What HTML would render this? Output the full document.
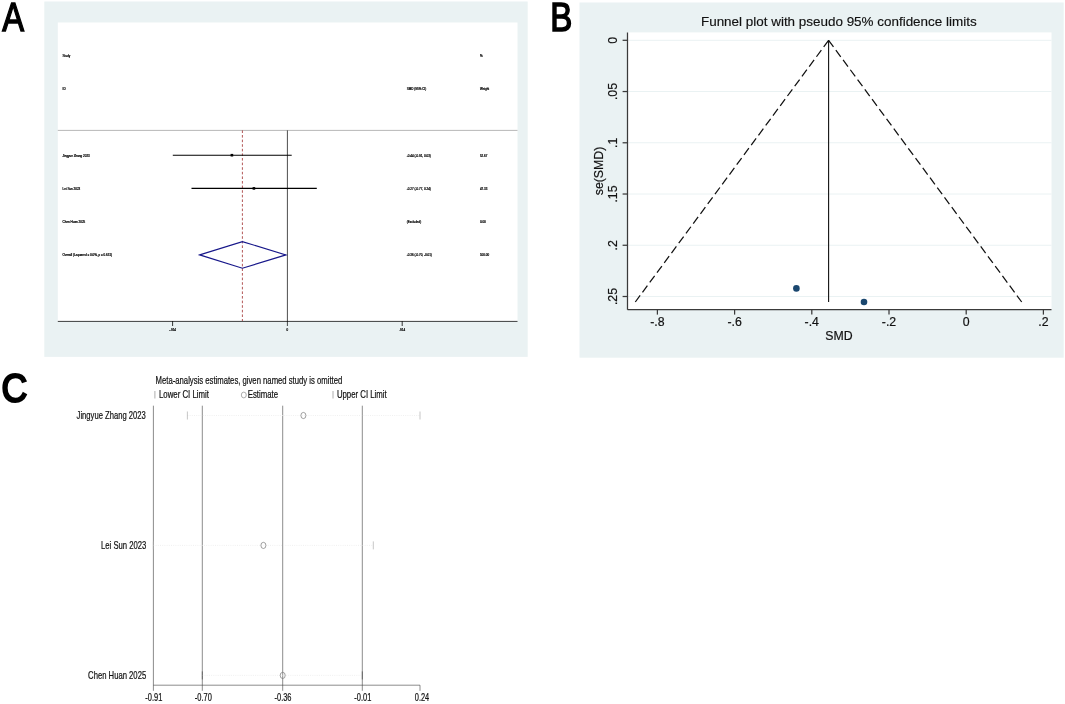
<!DOCTYPE html>
<html lang="en"><head><meta charset="utf-8"><title>Figure</title>
<style>
html,body{margin:0;padding:0;background:#fff;}
body{width:1065px;height:704px;overflow:hidden;}
svg{display:block;will-change:transform;}
text{font-family:"Liberation Sans",sans-serif;fill:#000;}
.big{font-weight:400;stroke:#000;}
.tiny{font-size:3px;font-weight:400;stroke:#000;stroke-width:0.2px;}
.bt{font-size:12.3px;fill:#111;stroke:#111;stroke-width:0.2px;}
.btitle{font-size:13.45px;fill:#111;stroke:#111;stroke-width:0.15px;}
.ct{font-size:10.6px;fill:#111;stroke:#111;stroke-width:0.22px;}
</style></head><body>
<svg width="1065" height="704" viewBox="0 0 1065 704">
<rect x="0" y="0" width="1065" height="704" fill="#fff"/>
<rect x="44.3" y="1.5" width="483.4" height="355.4" fill="#eaf2f3"/>
<rect x="57.8" y="22.5" width="459.7" height="298.6" fill="#fff"/>
<text class="big" transform="translate(2.2,30.9) scale(0.81,1)" font-size="40.4" stroke-width="1.4">A</text>
<line x1="57.8" y1="130.4" x2="517.5" y2="130.4" stroke="#9a9a9a" stroke-width="0.7"/>
<line x1="57.8" y1="321.4" x2="517.5" y2="321.4" stroke="#000" stroke-width="0.75"/>
<line x1="172.6" y1="321.1" x2="172.6" y2="326" stroke="#000" stroke-width="0.8"/>
<line x1="402.2" y1="321.1" x2="402.2" y2="326" stroke="#000" stroke-width="0.8"/>
<line x1="287.4" y1="130.4" x2="287.4" y2="326" stroke="#000" stroke-width="0.7"/>
<line x1="242.4" y1="130.4" x2="242.4" y2="321" stroke="#a02c2c" stroke-width="0.8" stroke-dasharray="2.6,2"/>
<line x1="172.8" y1="155.2" x2="291.7" y2="155.2" stroke="#000" stroke-width="1.1"/>
<rect x="230.6" y="153.9" width="2.6" height="2.6" fill="#000"/>
<line x1="191.5" y1="188.4" x2="316.8" y2="188.4" stroke="#000" stroke-width="1.1"/>
<rect x="252.6" y="187.1" width="2.6" height="2.6" fill="#000"/>
<polygon points="199.7,254.9 242.4,241.6 285.9,254.9 242.4,268.2" fill="none" stroke="#17178a" stroke-width="1.15"/>
<text class="tiny" x="62.6" y="57.2" text-anchor="start">Study</text>
<text class="tiny" x="62.6" y="90.2" text-anchor="start">ID</text>
<text class="tiny" x="62.6" y="156.7" text-anchor="start">Jingyue Zhang 2023</text>
<text class="tiny" x="62.6" y="189.9" text-anchor="start">Lei Sun 2023</text>
<text class="tiny" x="62.6" y="223.2" text-anchor="start">Chen Huan 2025</text>
<text class="tiny" x="62.6" y="256.4" text-anchor="start">Overall  (I-squared = 0.0%, p = 0.631)</text>
<text class="tiny" x="406.8" y="90.2" text-anchor="start">SMD (95% CI)</text>
<text class="tiny" x="406.8" y="156.7" text-anchor="start">-0.44 (-0.91, 0.03)</text>
<text class="tiny" x="406.8" y="189.9" text-anchor="start">-0.27 (-0.77, 0.24)</text>
<text class="tiny" x="406.8" y="223.2" text-anchor="start">(Excluded)</text>
<text class="tiny" x="406.8" y="256.4" text-anchor="start">-0.36 (-0.70, -0.01)</text>
<text class="tiny" x="479.9" y="57.2" text-anchor="start">%</text>
<text class="tiny" x="479.9" y="90.2" text-anchor="start">Weight</text>
<text class="tiny" x="479.9" y="156.7" text-anchor="start">52.67</text>
<text class="tiny" x="479.9" y="189.9" text-anchor="start">47.33</text>
<text class="tiny" x="479.9" y="223.2" text-anchor="start">0.00</text>
<text class="tiny" x="479.9" y="256.4" text-anchor="start">100.00</text>
<text class="tiny" x="172.6" y="331.2" text-anchor="middle">-.914</text>
<text class="tiny" x="287.4" y="331.2" text-anchor="middle">0</text>
<text class="tiny" x="402.2" y="331.2" text-anchor="middle">.914</text>
<rect x="579.5" y="2.5" width="484.2" height="355.2" fill="#eaf2f3"/>
<rect x="627.5" y="32.4" width="424" height="277.3" fill="#fff"/>
<text class="big" transform="translate(550.3,30.5) scale(0.83,1)" font-size="39.8" stroke-width="1.6">B</text>
<line x1="627.5" y1="40.30" x2="1051.5" y2="40.30" stroke="#eaf2f3" stroke-width="1"/>
<line x1="627.5" y1="91.54" x2="1051.5" y2="91.54" stroke="#eaf2f3" stroke-width="1"/>
<line x1="627.5" y1="142.78" x2="1051.5" y2="142.78" stroke="#eaf2f3" stroke-width="1"/>
<line x1="627.5" y1="194.02" x2="1051.5" y2="194.02" stroke="#eaf2f3" stroke-width="1"/>
<line x1="627.5" y1="245.26" x2="1051.5" y2="245.26" stroke="#eaf2f3" stroke-width="1"/>
<line x1="627.5" y1="296.50" x2="1051.5" y2="296.50" stroke="#eaf2f3" stroke-width="1"/>
<line x1="627.5" y1="32.4" x2="627.5" y2="309.7" stroke="#3a3a3a" stroke-width="1.25"/>
<line x1="627.5" y1="309.7" x2="1051.5" y2="309.7" stroke="#3a3a3a" stroke-width="1.25"/>
<line x1="622.6" y1="40.30" x2="627.5" y2="40.30" stroke="#3a3a3a" stroke-width="1.25"/>
<line x1="622.6" y1="91.54" x2="627.5" y2="91.54" stroke="#3a3a3a" stroke-width="1.25"/>
<line x1="622.6" y1="142.78" x2="627.5" y2="142.78" stroke="#3a3a3a" stroke-width="1.25"/>
<line x1="622.6" y1="194.02" x2="627.5" y2="194.02" stroke="#3a3a3a" stroke-width="1.25"/>
<line x1="622.6" y1="245.26" x2="627.5" y2="245.26" stroke="#3a3a3a" stroke-width="1.25"/>
<line x1="622.6" y1="296.50" x2="627.5" y2="296.50" stroke="#3a3a3a" stroke-width="1.25"/>
<line x1="657.40" y1="309.7" x2="657.40" y2="314.6" stroke="#3a3a3a" stroke-width="1.25"/>
<line x1="734.60" y1="309.7" x2="734.60" y2="314.6" stroke="#3a3a3a" stroke-width="1.25"/>
<line x1="811.80" y1="309.7" x2="811.80" y2="314.6" stroke="#3a3a3a" stroke-width="1.25"/>
<line x1="889.00" y1="309.7" x2="889.00" y2="314.6" stroke="#3a3a3a" stroke-width="1.25"/>
<line x1="966.20" y1="309.7" x2="966.20" y2="314.6" stroke="#3a3a3a" stroke-width="1.25"/>
<line x1="1043.40" y1="309.7" x2="1043.40" y2="314.6" stroke="#3a3a3a" stroke-width="1.25"/>
<text class="bt" transform="translate(616.8,40.30) rotate(-90)" text-anchor="middle">0</text>
<text class="bt" transform="translate(616.8,91.54) rotate(-90)" text-anchor="middle">.05</text>
<text class="bt" transform="translate(616.8,142.78) rotate(-90)" text-anchor="middle">.1</text>
<text class="bt" transform="translate(616.8,194.02) rotate(-90)" text-anchor="middle">.15</text>
<text class="bt" transform="translate(616.8,245.26) rotate(-90)" text-anchor="middle">.2</text>
<text class="bt" transform="translate(616.8,296.50) rotate(-90)" text-anchor="middle">.25</text>
<text class="bt" x="657.40" y="326.3" text-anchor="middle">-.8</text>
<text class="bt" x="734.60" y="326.3" text-anchor="middle">-.6</text>
<text class="bt" x="811.80" y="326.3" text-anchor="middle">-.4</text>
<text class="bt" x="889.00" y="326.3" text-anchor="middle">-.2</text>
<text class="bt" x="966.20" y="326.3" text-anchor="middle">0</text>
<text class="bt" x="1043.40" y="326.3" text-anchor="middle">.2</text>
<text class="bt" x="839" y="340" text-anchor="middle">SMD</text>
<text class="bt" transform="translate(602.7,171) rotate(-90)" text-anchor="middle">se(SMD)</text>
<text class="btitle" x="838.8" y="25.5" text-anchor="middle">Funnel plot with pseudo 95% confidence limits</text>
<line x1="828.6" y1="40.1" x2="828.6" y2="302" stroke="#111" stroke-width="1.1"/>
<line x1="828.6" y1="40.3" x2="635.3" y2="302" stroke="#111" stroke-width="1.25" stroke-dasharray="8.25,3.95"/>
<line x1="828.6" y1="40.3" x2="1021.7" y2="302" stroke="#111" stroke-width="1.25" stroke-dasharray="8.25,3.95"/>
<circle cx="796.4" cy="288.4" r="3.3" fill="#1a476f"/>
<circle cx="864" cy="302" r="3.3" fill="#1a476f"/>
<text class="big" transform="translate(1.5,401.9) scale(0.88,1)" font-size="40.6" stroke-width="2.2">C</text>
<text class="ct" x="155.6" y="383.9" text-anchor="start" textLength="186.7" lengthAdjust="spacingAndGlyphs">Meta-analysis estimates, given named study is omitted</text>
<line x1="154.9" y1="391" x2="154.9" y2="398.5" stroke="#999" stroke-width="0.8"/>
<text class="ct" x="159" y="398.2" text-anchor="start" textLength="49.9" lengthAdjust="spacingAndGlyphs">Lower CI Limit</text>
<ellipse cx="243.8" cy="395" rx="2.5" ry="2.9" fill="none" stroke="#777" stroke-width="0.6"/>
<text class="ct" x="247.7" y="398.2" text-anchor="start" textLength="30.3" lengthAdjust="spacingAndGlyphs">Estimate</text>
<line x1="333" y1="391" x2="333" y2="398.5" stroke="#999" stroke-width="0.8"/>
<text class="ct" x="336.9" y="398.2" text-anchor="start" textLength="49.8" lengthAdjust="spacingAndGlyphs">Upper CI Limit</text>
<line x1="153.4" y1="405.7" x2="153.4" y2="690.8" stroke="#444" stroke-width="0.62"/>
<line x1="202.3" y1="405.7" x2="202.3" y2="690.8" stroke="#444" stroke-width="0.62"/>
<line x1="282.7" y1="405.7" x2="282.7" y2="690.8" stroke="#444" stroke-width="0.62"/>
<line x1="362.3" y1="405.7" x2="362.3" y2="690.8" stroke="#444" stroke-width="0.62"/>
<line x1="420" y1="685.2" x2="420" y2="690.8" stroke="#444" stroke-width="0.62"/>
<line x1="153.4" y1="685.2" x2="420" y2="685.2" stroke="#444" stroke-width="0.62"/>
<line x1="187.4" y1="415.5" x2="420" y2="415.5" stroke="#e9e9e9" stroke-width="0.7" stroke-dasharray="1,1.2"/>
<line x1="187.4" y1="411.5" x2="187.4" y2="419.5" stroke="#a8a8a8" stroke-width="0.65"/>
<line x1="420" y1="411.5" x2="420" y2="419.5" stroke="#a8a8a8" stroke-width="0.65"/>
<ellipse cx="303.4" cy="415.5" rx="2.5" ry="3.1" fill="none" stroke="#777" stroke-width="0.7"/>
<line x1="153.4" y1="545.4" x2="373.3" y2="545.4" stroke="#e9e9e9" stroke-width="0.7" stroke-dasharray="1,1.2"/>
<line x1="153.4" y1="541.4" x2="153.4" y2="549.4" stroke="#a8a8a8" stroke-width="0.65"/>
<line x1="373.3" y1="541.4" x2="373.3" y2="549.4" stroke="#a8a8a8" stroke-width="0.65"/>
<ellipse cx="263.4" cy="545.4" rx="2.5" ry="3.1" fill="none" stroke="#777" stroke-width="0.7"/>
<line x1="202.3" y1="675.4" x2="362.3" y2="675.4" stroke="#e9e9e9" stroke-width="0.7" stroke-dasharray="1,1.2"/>
<line x1="202.3" y1="671.4" x2="202.3" y2="679.4" stroke="#444" stroke-width="0.65"/>
<line x1="362.3" y1="671.4" x2="362.3" y2="679.4" stroke="#444" stroke-width="0.65"/>
<ellipse cx="282.7" cy="675.4" rx="2.5" ry="3.1" fill="none" stroke="#777" stroke-width="0.7"/>
<text class="ct" x="145.8" y="418.8" text-anchor="end" textLength="69.2" lengthAdjust="spacingAndGlyphs">Jingyue Zhang 2023</text>
<text class="ct" x="146.4" y="548.7" text-anchor="end" textLength="45.4" lengthAdjust="spacingAndGlyphs">Lei Sun 2023</text>
<text class="ct" x="146.2" y="678.7" text-anchor="end" textLength="58.1" lengthAdjust="spacingAndGlyphs">Chen Huan 2025</text>
<text class="ct" x="153.8" y="701.2" text-anchor="middle" textLength="17" lengthAdjust="spacingAndGlyphs">-0.91</text>
<text class="ct" x="203.3" y="701.2" text-anchor="middle" textLength="17" lengthAdjust="spacingAndGlyphs">-0.70</text>
<text class="ct" x="283" y="701.2" text-anchor="middle" textLength="17" lengthAdjust="spacingAndGlyphs">-0.36</text>
<text class="ct" x="362.8" y="701.2" text-anchor="middle" textLength="17" lengthAdjust="spacingAndGlyphs">-0.01</text>
<text class="ct" x="422" y="701.2" text-anchor="middle" textLength="14.4" lengthAdjust="spacingAndGlyphs">0.24</text>
</svg>
</body></html>
